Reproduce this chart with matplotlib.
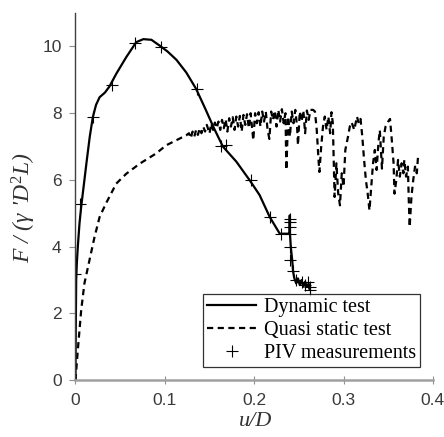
import numpy as np
import matplotlib.pyplot as plt

plt.rcParams['mathtext.fontset'] = 'custom'
plt.rcParams['mathtext.it'] = 'Liberation Serif:italic'
plt.rcParams['mathtext.rm'] = 'Liberation Serif'

# dynamic test (solid line)
dyn_x = [0, 0.0003, 0.0008, 0.0015, 0.0026, 0.0045, 0.0064, 0.010, 0.0127, 0.016,
         0.0194, 0.023, 0.027, 0.033, 0.038, 0.0456, 0.0568, 0.068, 0.076, 0.085,
         0.094, 0.103, 0.113, 0.124, 0.135, 0.145, 0.155, 0.165, 0.180, 0.195,
         0.206, 0.2174, 0.2286, 0.2395, 0.2398, 0.2400, 0.241, 0.2425, 0.2435,
         0.245, 0.247, 0.249, 0.251, 0.253, 0.255, 0.257, 0.259, 0.261, 0.262]
dyn_y = [0, 1.5, 3.0, 3.5, 4.0, 4.7, 5.2, 6.0, 6.6, 7.3,
         7.88, 8.25, 8.48, 8.62, 8.80, 9.18, 9.68, 10.13, 10.22, 10.2,
         10.03, 9.85, 9.6, 9.22, 8.73, 8.15, 7.55, 7.0, 6.55, 5.99,
         5.55, 4.89, 4.39, 4.39, 4.94, 4.39, 3.99, 3.61, 3.26,
         3.05, 2.9, 3.05, 2.85, 3.0, 2.8, 2.95, 2.8, 2.9, 2.72]

# quasi static test (dashed line)
qs_x = [0, 0.0026, 0.0064, 0.010, 0.0157, 0.0213, 0.027, 0.034, 0.0456, 0.057,
        0.072, 0.090, 0.1016, 0.112, 0.124,
        0.127, 0.129, 0.131, 0.133, 0.135, 0.137, 0.139, 0.141, 0.143, 0.145,
        0.147, 0.150, 0.152, 0.154, 0.156, 0.158, 0.160, 0.162, 0.164, 0.166,
        0.168, 0.170, 0.172, 0.174, 0.176, 0.178, 0.180, 0.182, 0.184, 0.186,
        0.188, 0.190, 0.192, 0.194, 0.196, 0.199, 0.201, 0.203, 0.205, 0.207,
        0.209, 0.211, 0.213, 0.215, 0.217, 0.219, 0.221, 0.223, 0.225, 0.227,
        0.229, 0.231, 0.233, 0.235, 0.236, 0.238, 0.240, 0.242, 0.244, 0.246,
        0.248, 0.249, 0.251, 0.253, 0.255, 0.257, 0.259, 0.261, 0.263, 0.266,
        0.268, 0.270, 0.272, 0.273, 0.275, 0.277, 0.279, 0.281, 0.283, 0.285,
        0.2865, 0.288, 0.290, 0.292, 0.294, 0.296, 0.298, 0.300, 0.302, 0.305,
        0.307, 0.309, 0.312, 0.315, 0.317, 0.319, 0.321, 0.323, 0.325, 0.327,
        0.329, 0.331, 0.333, 0.335, 0.337, 0.339, 0.3406, 0.343, 0.345, 0.347,
        0.350, 0.352, 0.354, 0.356, 0.357, 0.359, 0.361, 0.363, 0.365, 0.367,
        0.368, 0.370, 0.372, 0.373, 0.374, 0.376, 0.378, 0.380, 0.382, 0.3836]
qs_y = [0, 0.9, 2.1, 2.9, 3.6, 4.29, 4.89, 5.29, 5.89, 6.19,
        6.49, 6.79, 7.04, 7.18, 7.34,
        7.40, 7.25, 7.45, 7.30, 7.50, 7.35, 7.55, 7.40, 7.60, 7.45,
        7.65, 7.39, 7.70, 7.50, 7.72, 7.55, 7.75, 7.50, 7.80, 7.55,
        7.82, 7.45, 7.85, 7.60, 7.88, 7.50, 7.90, 7.60, 7.92, 7.45,
        7.95, 7.65, 7.97, 7.55, 8.00, 7.19, 8.00, 7.70, 8.03, 7.60,
        8.05, 7.75, 8.05, 7.50, 7.23, 8.05, 7.80, 8.08, 7.60, 8.10,
        7.75, 8.12, 7.70, 8.00, 6.30, 7.90, 7.30, 8.05, 7.70, 8.10,
        7.60, 7.04, 8.05, 7.75, 8.08, 7.40, 8.08, 7.80, 8.10, 8.10,
        8.05, 7.5, 6.6, 6.24, 7.0, 7.6, 7.9, 7.5, 7.9, 7.4,
        8.03, 7.7, 5.49, 6.5, 5.6, 5.24, 6.2, 5.8, 6.9, 7.3,
        7.6, 7.73, 7.5, 7.9, 7.7, 7.83, 7.3, 6.6, 6.0, 5.6,
        5.09, 5.8, 6.5, 6.9, 6.3, 7.1, 7.49, 6.34, 7.3, 7.6,
        7.75, 7.83, 7.2, 6.5, 5.59, 5.99, 6.6, 6.1, 6.5, 6.2,
        6.6, 6.1, 6.4, 5.4, 4.59, 5.5, 6.0, 6.4, 6.2, 6.79]

# PIV measurements (+)
piv_x = [0.0, 0.0045, 0.020, 0.041, 0.067, 0.096, 0.136, 0.163, 0.168, 0.196,
         0.2174, 0.2305, 0.2398, 0.2398, 0.2398, 0.2398, 0.2398, 0.2398, 0.2435,
         0.247, 0.253, 0.2566, 0.260, 0.262, 0.262]
piv_y = [3.19, 5.27, 7.88, 8.86, 10.11, 9.98, 8.73, 7.02, 7.04, 5.99,
         4.89, 4.39, 4.84, 4.74, 4.59, 4.39, 3.99, 3.61, 3.26,
         2.99, 2.94, 2.84, 2.94, 2.79, 2.69]

fig = plt.figure(figsize=(4.44, 4.37), dpi=100)
ax = fig.add_axes([0.170, 0.130, 0.805, 0.840])

ax.plot(dyn_x, dyn_y, color='black', lw=1.6, label='Dynamic test')
ax.plot(qs_x, qs_y, color='black', lw=1.6, ls=(0, (2.8, 2.0)), label='Quasi static test')
ax.plot(piv_x, piv_y, ls='none', marker='+', ms=8, mew=0.8, color='black',
        label='PIV measurements')

ax.set_xlim(0, 0.4)
ax.set_ylim(0, 11)
ax.set_xticks([0, 0.1, 0.2, 0.3, 0.4])
ax.set_xticklabels(['0', '0.1', '0.2', '0.3', '0.4'])
ax.set_yticks([0, 2, 4, 6, 8, 10])

for s in ['top', 'right']:
    ax.spines[s].set_visible(False)
ax.spines['left'].set_color('#404040')
ax.spines['left'].set_linewidth(1.0)
ax.spines['bottom'].set_color('#a0a0a0')
ax.spines['bottom'].set_linewidth(1.8)
ax.tick_params(colors='#909090', labelcolor='#3a3a3a', labelsize=12.5,
               width=0.8, labelfontfamily='Liberation Sans')
ax.tick_params(axis='x', direction='inout', length=6, pad=6)
ax.tick_params(axis='y', direction='out', length=4, pad=6)

ax.set_xlabel('u/D', fontfamily='Liberation Serif', style='italic',
              fontsize=16, color='#333333', va='top')
ax.xaxis.set_label_coords(0.503, -0.086)
ax.set_ylabel("F / (γ '$D^2$L)", fontfamily='Liberation Serif', style='italic',
              fontsize=17, color='#333333')
ax.yaxis.set_label_coords(-0.105, 0.469)

leg = ax.legend(loc='lower right', bbox_to_anchor=(0.965, 0.035),
                prop={'family': 'Liberation Serif', 'size': 14.5},
                frameon=True, fancybox=False, edgecolor='black',
                handlelength=2.45, handletextpad=0.4, borderpad=0.2,
                labelspacing=0.2, borderaxespad=0)
leg.get_frame().set_linewidth(0.9)

fig.savefig('out.png', dpi=100)
